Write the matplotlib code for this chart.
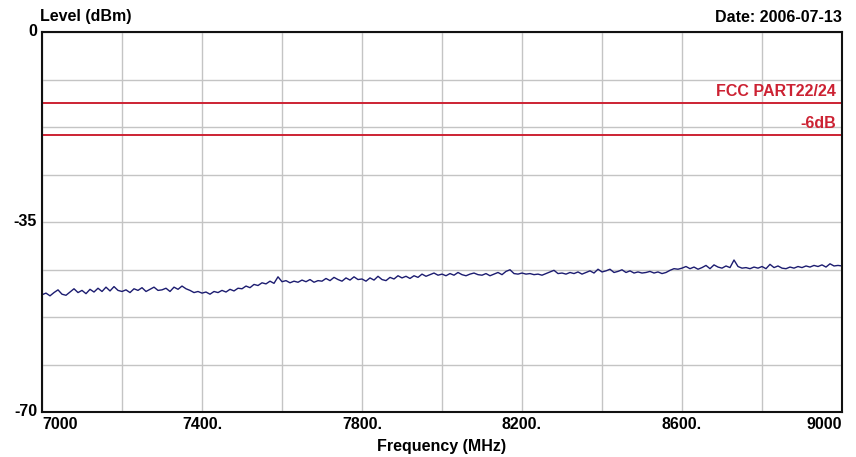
import numpy as np
import matplotlib
matplotlib.use("Agg")
import matplotlib.pyplot as plt

# spectrum trace, one value every 10 MHz from 7000 to 9000 MHz
freq_start = 7000
freq_step = 10
level = [
    -48.4, -48.1, -48.6, -48.0, -47.5, -48.3, -48.5, -47.9, -47.3, -48.0,
    -47.6, -48.2, -47.4, -47.9, -47.2, -47.8, -47.0, -47.7, -46.9, -47.6,
    -47.8, -47.5, -48.0, -47.3, -47.6, -47.1, -47.8, -47.4, -47.0, -47.6,
    -47.5, -47.2, -47.8, -47.0, -47.4, -46.8, -47.3, -47.6, -48.0, -47.8,
    -48.1, -47.9, -48.3, -47.8, -48.0, -47.6, -47.9, -47.4, -47.7, -47.2,
    -47.3, -46.8, -47.1, -46.5, -46.7, -46.2, -46.4, -45.9, -46.3, -45.1,
    -46.0, -45.8, -46.2, -45.9, -46.1, -45.7, -46.0, -45.6, -46.1, -45.8,
    -45.9, -45.4, -45.8, -45.2, -45.6, -45.9, -45.3, -45.7, -45.1, -45.6,
    -45.5, -45.9, -45.3, -45.7, -45.0, -45.6, -45.8, -45.2, -45.5, -44.9,
    -45.3, -45.0, -45.4, -44.9, -45.2, -44.6, -45.0, -44.7, -44.4, -44.8,
    -44.6, -44.9, -44.5, -44.8, -44.3, -44.7, -44.9, -44.6, -44.4, -44.7,
    -44.8, -44.5, -44.9, -44.6, -44.3, -44.7, -44.1, -43.8, -44.5, -44.6,
    -44.4, -44.6, -44.5, -44.7, -44.6, -44.8, -44.5, -44.2, -43.9, -44.5,
    -44.4, -44.6, -44.3, -44.5, -44.2, -44.6, -44.3, -44.0, -44.4, -43.7,
    -44.2, -44.0, -43.7, -44.3, -44.1, -43.8, -44.3, -44.0, -44.4, -44.2,
    -44.4, -44.3, -44.1, -44.4, -44.2, -44.5, -44.3, -43.9, -43.6, -43.7,
    -43.5, -43.2, -43.6, -43.3, -43.7, -43.4, -43.0, -43.6, -42.9, -43.3,
    -43.5, -43.1, -43.4, -42.0, -43.2, -43.5, -43.4, -43.6, -43.3, -43.5,
    -43.2, -43.6, -42.8, -43.4, -43.1, -43.5, -43.6, -43.3, -43.5, -43.2,
    -43.4, -43.1, -43.3, -43.0, -43.2, -42.9, -43.3, -42.7, -43.1, -43.0,
    -43.1,
]
freq = freq_start + freq_step * np.arange(len(level))

# limit lines
limit_levels = [-13, -19]
limit_labels = ["FCC PART22/24", "-6dB"]

x_labels = {7000: "7000", 7400: "7400.", 7800: "7800.", 8200: "8200.", 8600: "8600.", 9000: "9000"}
y_labels = {0: "0", -35: "-35", -70: "-70"}

plt.rcParams['font.family'] = ['Liberation Sans', 'DejaVu Sans']
plt.rcParams['font.weight'] = 'bold'
fs = 11.5

fig = plt.figure(figsize=(8.56, 4.57), dpi=100)
ax = fig.add_axes([42 / 856, 45 / 457, 800 / 856, 380 / 457])

ax.set_xlim(7000, 9000)
ax.set_ylim(-70, 0)

xt = np.arange(7000, 9001, 200)
yt = np.arange(-70, 0.01, 8.75)
ax.set_xticks(xt)
ax.set_yticks(yt)
ax.set_xticklabels([])
ax.set_yticklabels([])
ax.tick_params(length=0)
ax.grid(True, color="#c4c4c4", linewidth=1)

for v, t in x_labels.items():
    ha = "left" if v == 7000 else ("right" if v == 9000 else "center")
    ax.text(v, -70.9, t, ha=ha, va="top", fontsize=fs, fontweight="bold")
for v, t in y_labels.items():
    ax.text(6988, v, t, ha="right", va="center", fontsize=fs, fontweight="bold")

for lv, lb in zip(limit_levels, limit_labels):
    ax.axhline(lv, color="#cc2233", linewidth=1.4)
    ax.text(8985, lv + 0.7, lb, ha="right", va="bottom", color="#cc2233",
            fontsize=fs, fontweight="bold")

ax.plot(freq, level, color="#1c1c70", linewidth=1.0)

for s in ax.spines.values():
    s.set_linewidth(1.5)
    s.set_color("#111111")

fig.text(40 / 856, 1 - 17 / 457, "Level (dBm)", ha="left", va="center", fontsize=fs, fontweight="bold")
fig.text(842 / 856, 1 - 17 / 457, "Date: 2006-07-13", ha="right", va="center", fontsize=fs, fontweight="bold")
fig.text(442 / 856, 1 - 446 / 457, "Frequency (MHz)", ha="center", va="center", fontsize=fs, fontweight="bold")

fig.savefig("out.png", dpi=100)
